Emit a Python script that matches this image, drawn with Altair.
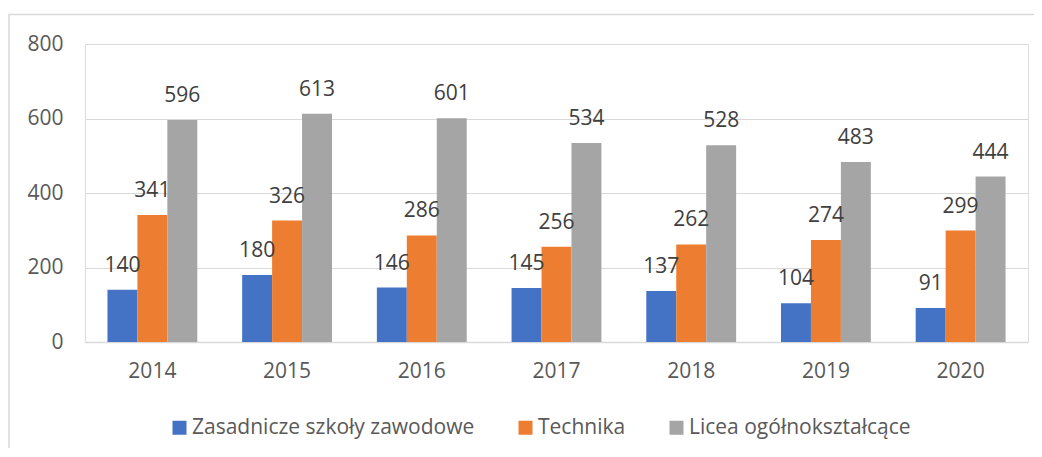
import altair as alt
import pandas as pd

years = ["2014", "2015", "2016", "2017", "2018", "2019", "2020"]
series = ["Zasadnicze szkoły zawodowe", "Technika", "Licea ogółnokształcące"]
zasadnicze = [140, 180, 146, 145, 137, 104, 91]
technika = [341, 326, 286, 256, 262, 274, 299]
licea = [596, 613, 601, 534, 528, 483, 444]
colors = ["#4472C4", "#ED7D31", "#A5A5A5"]
y_ticks = [0, 200, 400, 600, 800]

rows = []
for s, vals in zip(series, [zasadnicze, technika, licea]):
    for yr, v in zip(years, vals):
        rows.append({"Rok": yr, "Seria": s, "Wartość": v})
df = pd.DataFrame(rows)

FONT = "Open Sans"
W, H = 943, 298

x_enc = alt.X("Rok:N", sort=years, title=None,
              scale=alt.Scale(paddingInner=0.333, paddingOuter=0.1667),
              axis=alt.Axis(labelAngle=0, labelFontSize=21, labelColor="#595959",
                            labelFont=FONT, ticks=False, domain=True,
                            domainColor="#d9d9d9", domainWidth=1.5, labelPadding=18,
                            grid=False))
xo_enc = alt.XOffset("Seria:N", sort=series,
                     scale=alt.Scale(paddingInner=0, paddingOuter=0))
y_enc = alt.Y("Wartość:Q", title=None,
              scale=alt.Scale(domain=[0, 800], nice=False),
              axis=alt.Axis(values=y_ticks, labelFontSize=21, labelColor="#595959",
                            labelFont=FONT, ticks=False, domain=False,
                            gridColor="#d9d9d9", gridWidth=1.2, labelPadding=22))

bars = alt.Chart(df).mark_bar().encode(
    x=x_enc, xOffset=xo_enc, y=y_enc,
    color=alt.Color("Seria:N", sort=series,
                    scale=alt.Scale(domain=series, range=colors),
                    legend=alt.Legend(title=None, orient="none", direction="horizontal",
                                      legendX=84, legendY=373, symbolType="square",
                                      symbolSize=196, symbolStrokeWidth=0,
                                      labelFontSize=21, labelFont=FONT,
                                      labelColor="#595959", labelOffset=2,
                                      columnPadding=40, labelLimit=400)),
)

labels = alt.Chart(df).mark_text(
    fontSize=21, font=FONT, color="#404040", baseline="alphabetic", dy=-18
).encode(
    x=alt.X("Rok:N", sort=years),
    xOffset=alt.XOffset("Seria:N", sort=series),
    y=alt.Y("Wartość:Q"),
    text=alt.Text("Wartość:Q"),
)

border = alt.Chart(pd.DataFrame({"a": [0]})).mark_rect(
    fill=None, stroke="#d9d9d9", strokeWidth=1.5, clip=False
).encode(
    x=alt.value(-76), x2=alt.value(1100),
    y=alt.value(-29.5), y2=alt.value(500),
)

chart = alt.layer(border, bars, labels).properties(
    width=W, height=H,
    autosize=alt.AutoSizeParams(type="none"),
    padding={"left": 77, "top": 36, "right": 6, "bottom": 106},
).configure_view(stroke=None).configure(background="white")

chart.save("out.html", embed_options={"renderer": "svg", "actions": False})
